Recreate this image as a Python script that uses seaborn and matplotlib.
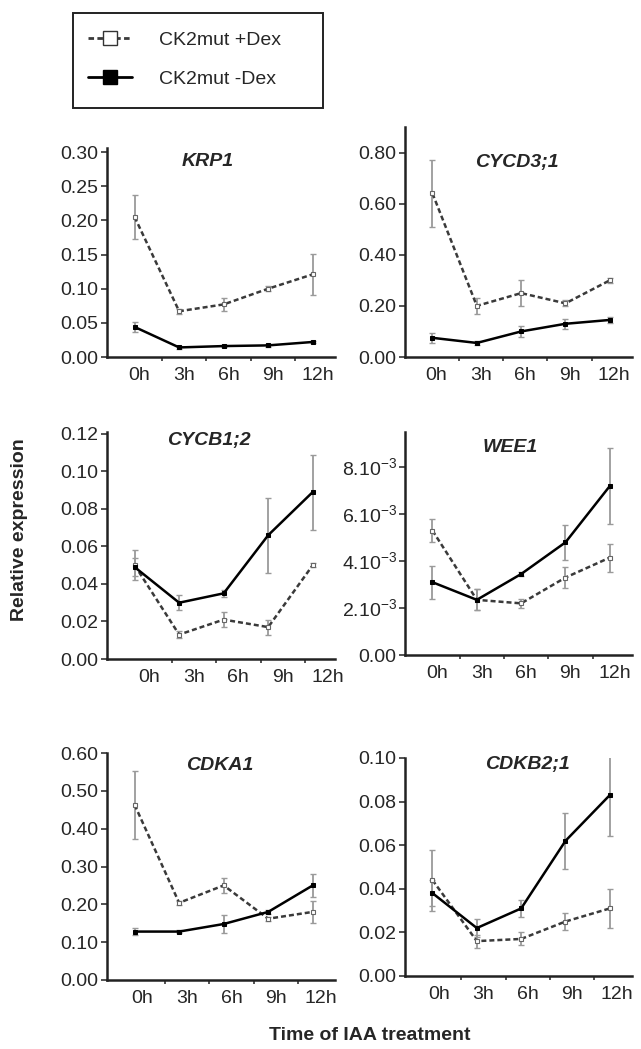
import numpy as np
import pandas as pd
import matplotlib
matplotlib.use("Agg")
import matplotlib.pyplot as plt
from matplotlib.lines import Line2D
from matplotlib.patches import Rectangle
import matplotlib.ticker as mticker
import seaborn as sns

# ---- data ----
times = ["0h", "3h", "6h", "9h", "12h"]

krp1_plus = [0.205, 0.067, 0.077, 0.100, 0.121]
krp1_plus_err = [0.032, 0.004, 0.010, 0.004, 0.030]
krp1_minus = [0.044, 0.014, 0.016, 0.017, 0.022]
krp1_minus_err = [0.007, 0.002, 0.002, 0.002, 0.002]

cycd3_plus = [0.64, 0.20, 0.25, 0.21, 0.30]
cycd3_plus_err = [0.13, 0.03, 0.05, 0.012, 0.01]
cycd3_minus = [0.075, 0.055, 0.10, 0.13, 0.145]
cycd3_minus_err = [0.02, 0.008, 0.02, 0.02, 0.01]

cycb1_plus = [0.050, 0.013, 0.021, 0.017, 0.050]
cycb1_plus_err = [0.008, 0.002, 0.004, 0.004, 0.001]
cycb1_minus = [0.049, 0.030, 0.035, 0.066, 0.089]
cycb1_minus_err = [0.005, 0.004, 0.002, 0.020, 0.020]

wee1_plus = [5.3e-3, 2.35e-3, 2.2e-3, 3.3e-3, 4.15e-3]
wee1_plus_err = [0.5e-3, 0.45e-3, 0.2e-3, 0.45e-3, 0.6e-3]
wee1_minus = [3.1e-3, 2.35e-3, 3.45e-3, 4.8e-3, 7.2e-3]
wee1_minus_err = [0.7e-3, 0.45e-3, 0.1e-3, 0.75e-3, 1.6e-3]

cdka1_plus = [0.463, 0.204, 0.250, 0.162, 0.180]
cdka1_plus_err = [0.09, 0.005, 0.02, 0.005, 0.03]
cdka1_minus = [0.128, 0.128, 0.148, 0.180, 0.250]
cdka1_minus_err = [0.01, 0.004, 0.025, 0.005, 0.03]

cdkb2_plus = [0.044, 0.016, 0.017, 0.025, 0.031]
cdkb2_plus_err = [0.014, 0.003, 0.003, 0.004, 0.009]
cdkb2_minus = [0.038, 0.022, 0.031, 0.062, 0.083]
cdkb2_minus_err = [0.006, 0.004, 0.004, 0.013, 0.019]

genes = ["KRP1", "CYCD3;1", "CYCB1;2", "WEE1", "CDKA1", "CDKB2;1"]
plus_vals = [krp1_plus, cycd3_plus, cycb1_plus, wee1_plus, cdka1_plus, cdkb2_plus]
plus_errs = [krp1_plus_err, cycd3_plus_err, cycb1_plus_err, wee1_plus_err, cdka1_plus_err, cdkb2_plus_err]
minus_vals = [krp1_minus, cycd3_minus, cycb1_minus, wee1_minus, cdka1_minus, cdkb2_minus]
minus_errs = [krp1_minus_err, cycd3_minus_err, cycb1_minus_err, wee1_minus_err, cdka1_minus_err, cdkb2_minus_err]

yticks = [
    [0.00, 0.05, 0.10, 0.15, 0.20, 0.25, 0.30],
    [0.00, 0.20, 0.40, 0.60, 0.80],
    [0.00, 0.02, 0.04, 0.06, 0.08, 0.10, 0.12],
    [0.0, 0.002, 0.004, 0.006, 0.008],
    [0.00, 0.10, 0.20, 0.30, 0.40, 0.50, 0.60],
    [0.00, 0.02, 0.04, 0.06, 0.08, 0.10],
]
wee1_labels = ["0.00", r"2.10$^{-3}$", r"4.10$^{-3}$", r"6.10$^{-3}$", r"8.10$^{-3}$"]

# ---- layout (pixels in a 641x1049 figure) ----
W, H = 641, 1049
boxes = [(107, 148, 335, 357), (405, 127, 632, 357),
         (107, 432, 335, 659), (405, 432, 632, 655),
         (107, 753, 335, 980), (405, 758, 632, 976)]
ytops = [0.306, 0.90, 0.121, 0.0095, 0.60, 0.10]
label_shift = [0.11, 0.09, 0.33, 0.11, 0.18, 0.15]
title_xy = [(208, 162), (517, 162), (209, 440), (510, 447), (220, 765), (527, 765)]

sns.set_style("ticks")
plt.rcParams["font.family"] = ["Liberation Sans", "DejaVu Sans"]
plt.rcParams["mathtext.fontset"] = "custom"
plt.rcParams["mathtext.rm"] = "Liberation Sans"

fig = plt.figure(figsize=(W / 100, H / 100), dpi=100)

x = np.arange(len(times))
for i, gene in enumerate(genes):
    l, t, r, b = boxes[i]
    ax = fig.add_axes([l / W, 1 - b / H, (r - l) / W, (b - t) / H])

    ax.errorbar(x, plus_vals[i], yerr=plus_errs[i], fmt="none", ecolor="#9a9a9a",
                elinewidth=1.3, capsize=2, capthick=1.0, zorder=2)
    ax.errorbar(x, minus_vals[i], yerr=minus_errs[i], fmt="none", ecolor="#9a9a9a",
                elinewidth=1.3, capsize=2, capthick=1.0, zorder=2)
    sns.lineplot(x=x, y=plus_vals[i], ax=ax, color="#3a3a3a", linestyle=(0, (2, 1.2)),
                 lw=1.8, marker="s", markersize=3.5, markerfacecolor="white",
                 markeredgecolor="#666666", markeredgewidth=0.8, zorder=3)
    sns.lineplot(x=x, y=minus_vals[i], ax=ax, color="black", lw=1.8,
                 marker="s", markersize=3.5, markerfacecolor="black",
                 markeredgecolor="black", zorder=4)

    ax.set_xlim(-0.62, 4.5)
    ax.set_ylim(0, ytops[i])
    ax.set_xticks(x + label_shift[i])
    ax.set_xticklabels(times)
    ax.set_xticks(x[:-1] + label_shift[i] + 0.5, minor=True)
    ax.tick_params(axis="x", which="major", length=0, pad=7, labelsize=14)
    ax.tick_params(axis="x", which="minor", length=3, width=1.2, color="#333333")
    ax.set_yticks(yticks[i])
    if gene == "WEE1":
        ax.set_yticklabels(wee1_labels)
    else:
        ax.yaxis.set_major_formatter(mticker.FormatStrFormatter("%.2f"))
    ax.tick_params(axis="y", length=4, width=1.2, pad=2, labelsize=14, color="#333333")
    ax.set_xlabel("")
    ax.set_ylabel("")
    sns.despine(ax=ax)
    for s in ["left", "bottom"]:
        ax.spines[s].set_linewidth(1.8)
        ax.spines[s].set_color("#222222")

    tx, ty = title_xy[i]
    fig.text(tx / W, 1 - ty / H, gene, ha="center", va="center",
             fontsize=14, fontweight="bold", fontstyle="italic")

# legend with a fixed-size box
fig.patches.append(Rectangle((73 / W, 1 - 108 / H), 250 / W, 95 / H,
                             transform=fig.transFigure, fill=False,
                             edgecolor="#222222", lw=1.4))
handles = [
    Line2D([], [], color="#3a3a3a", linestyle=(0, (2, 1.2)), lw=2, marker="s",
           markersize=10, markerfacecolor="white", markeredgecolor="#333333"),
    Line2D([], [], color="black", lw=2, marker="s", markersize=10,
           markerfacecolor="black"),
]
fig.legend(handles, ["CK2mut +Dex", "CK2mut -Dex"], loc="upper left",
           bbox_to_anchor=(70 / W, 1 - 14 / H), frameon=False, fontsize=14,
           handlelength=2.3, handletextpad=1.4, labelspacing=1.1)

fig.text(20 / W, 1 - 530 / H, "Relative expression", rotation=90, ha="center",
         va="center", fontsize=14, fontweight="bold")
fig.text(370 / W, 1 - 1035 / H, "Time of IAA treatment", ha="center", va="center",
         fontsize=14, fontweight="bold")

fig.savefig("out.png", dpi=100)
